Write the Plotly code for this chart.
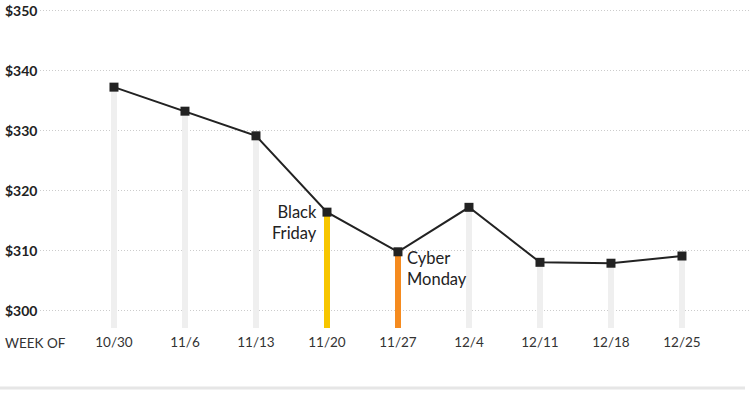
import plotly.graph_objects as go

weeks = ["10/30", "11/6", "11/13", "11/20", "11/27", "12/4", "12/11", "12/18", "12/25"]
prices = [337.2, 333.2, 329.1, 316.4, 309.8, 317.2, 308.05, 307.9, 309.1]
bar_colors = ["#efefef", "#efefef", "#efefef", "#f7c600", "#f58b1f", "#efefef", "#efefef", "#efefef", "#efefef"]
y_ticks = [300, 310, 320, 330, 340, 350]
y_tick_labels = ["$300", "$310", "$320", "$330", "$340", "$350"]

xi = list(range(len(weeks)))
BASE = 290
FONT = "Lato"
PW, PH = 710, 328  # plot area size in px

fig = go.Figure()
fig.add_trace(go.Bar(
    x=xi, y=[p - BASE for p in prices], base=BASE,
    marker=dict(color=bar_colors, line=dict(width=0)),
    width=0.09, hoverinfo="skip",
))
fig.add_trace(go.Scatter(
    x=xi, y=prices, mode="lines+markers",
    line=dict(color="#222222", width=2),
    marker=dict(symbol="square", size=9, color="#222222"),
))

annotations = []
for v, t in zip(y_ticks, y_tick_labels):
    annotations.append(dict(
        xref="paper", x=-37 / PW, y=v, yref="y", text=t, showarrow=False,
        xanchor="left", yanchor="middle",
        font=dict(family=FONT, size=14, color="#222222", weight="bold"),
    ))
annotations.append(dict(
    xref="paper", x=-37 / PW, yref="paper", y=-15 / PH, text="WEEK OF",
    showarrow=False, xanchor="left", yanchor="middle",
    font=dict(family=FONT, size=13.5, color="#333333"),
))
annotations.append(dict(
    x=3, y=314.6, text="Black<br>Friday", showarrow=False, xanchor="right",
    yanchor="middle", xshift=-8, align="right",
    font=dict(family=FONT, size=16.5, color="#222222"),
))
annotations.append(dict(
    x=4, y=307.0, text="Cyber<br>Monday", showarrow=False, xanchor="left",
    yanchor="middle", xshift=7, align="left",
    font=dict(family=FONT, size=16.5, color="#222222"),
))

fig.update_layout(
    width=750, height=399,
    margin=dict(l=40, r=0, t=0, b=71),
    paper_bgcolor="white", plot_bgcolor="white",
    showlegend=False, bargap=0,
    annotations=annotations,
    shapes=[dict(type="line", xref="paper", yref="paper",
                 x0=-40 / PW, x1=705 / PW, y0=-60 / PH, y1=-60 / PH,
                 line=dict(color="#e6e6e6", width=3))],
    xaxis=dict(
        range=[-1.042, 8.958], tickvals=xi, ticktext=weeks,
        showgrid=False, zeroline=False, showline=False, ticks="",
        ticklabelstandoff=4,
        tickfont=dict(family=FONT, size=13.5, color="#333333"),
    ),
    yaxis=dict(
        range=[297.12, 351.7], tickvals=y_ticks, showticklabels=False,
        showgrid=True, gridcolor="#cccccc", griddash="1px,2px", gridwidth=1,
        zeroline=False, showline=False, ticks="",
    ),
)

fig.write_html(
    "out.html",
    config={"displayModeBar": False},
    post_script="document.body.style.margin='0';document.body.style.padding='0';",
)
